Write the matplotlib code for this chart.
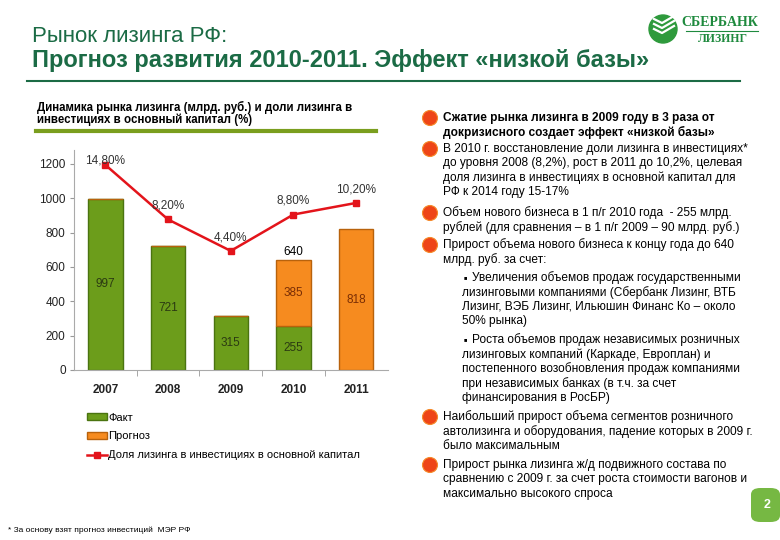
import matplotlib
matplotlib.use('Agg')
import matplotlib.pyplot as plt
from matplotlib.patches import Patch, Ellipse, FancyBboxPatch
from matplotlib.lines import Line2D

# Chart data
years = ['2007', '2008', '2009', '2010', '2011']
fact = [997, 721, 315, 255, 0]
forecast = [0, 0, 0, 385, 818]
share = [14.8, 8.2, 4.4, 8.8, 10.2]
share_labels = ['14,80%', '8,20%', '4,40%', '8,80%', '10,20%']
y_ticks = [0, 200, 400, 600, 800, 1000, 1200]

# Right-hand text block
bullets = [
    ['Сжатие рынка лизинга в 2009 году в 3 раза от',
     'докризисного создает эффект «низкой базы»'],
    ['В 2010 г. восстановление доли лизинга в инвестициях*',
     'до уровня 2008 (8,2%), рост в 2011 до 10,2%, целевая',
     'доля лизинга в инвестициях в основной капитал для',
     'РФ к 2014 году 15-17%'],
    ['Объем нового бизнеса в 1 п/г 2010 года  - 255 млрд.',
     'рублей (для сравнения – в 1 п/г 2009 – 90 млрд. руб.)'],
    ['Прирост объема нового бизнеса к концу года до 640',
     'млрд. руб. за счет:'],
    ['Наибольший прирост объема сегментов розничного',
     'автолизинга и оборудования, падение которых в 2009 г.',
     'было максимальным'],
    ['Прирост рынка лизинга ж/д подвижного состава по',
     'сравнению с 2009 г. за счет роста стоимости вагонов и',
     'максимально высокого спроса'],
]
bullet_bold = [True, False, False, False, False, False]
sub_bullets = [
    ['Увеличения объемов продаж государственными',
     'лизинговыми компаниями (Сбербанк Лизинг, ВТБ',
     'Лизинг, ВЭБ Лизинг, Ильюшин Финанс Ко – около',
     '50% рынка)'],
    ['Роста объемов продаж независимых розничных',
     'лизинговых компаний (Каркаде, Европлан) и',
     'постепенного возобновления продаж компаниями',
     'при независимых банках (в т.ч. за счет',
     'финансирования в РосБР)'],
]

W, H = 780, 540
DARK_GREEN = '#1b6b45'
GREEN = '#6c9d1b'
ORANGE = '#f68b1f'
RED = '#e3141b'
FONT = ['Liberation Sans', 'DejaVu Sans']
NARROW = ['Liberation Sans Narrow', 'Liberation Sans', 'DejaVu Sans']

plt.rcParams['font.family'] = FONT


def fx(x):
    return x / W


def fy(y):
    return 1 - y / H


fig = plt.figure(figsize=(7.8, 5.4), dpi=100)

# Header
fig.text(fx(32), fy(36), 'Рынок лизинга РФ:', fontsize=16, color=DARK_GREEN,
         va='center')
fig.text(fx(32), fy(60), 'Прогноз развития 2010-2011. Эффект «низкой базы»',
         fontsize=17, color=DARK_GREEN, fontweight='bold', va='center')
fig.add_artist(Line2D([fx(27), fx(740)], [fy(81), fy(81)], color=DARK_GREEN, lw=1.5))

# Logo
fig.add_artist(Ellipse((fx(663), fy(29)), 28 / W, 28 / H, color='#2e9a3c'))
for dy in (-6, -1, 4):
    fig.add_artist(Line2D([fx(654), fx(662), fx(674)],
                          [fy(29 + dy - 4), fy(29 + dy), fy(29 + dy - 7)],
                          color='white', lw=1.6))
fig.text(fx(720), fy(22), 'СБЕРБАНК', family=['Liberation Serif'], fontweight='bold',
         fontsize=10, color='#1f8a3e', ha='center', va='center')
fig.add_artist(Line2D([fx(686), fx(758)], [fy(31), fy(31)], color='#1f8a3e', lw=0.8))
fig.text(fx(723), fy(39), 'ЛИЗИНГ', family=['Liberation Serif'], fontweight='bold',
         fontsize=8.5, color='#1f8a3e', ha='center', va='center')

# Chart caption
fig.text(fx(37), fy(107), 'Динамика рынка лизинга (млрд. руб.) и доли лизинга в',
         family=NARROW, fontweight='bold', fontsize=8.3, va='center')
fig.text(fx(37), fy(120), 'инвестициях в основный капитал (%)',
         family=NARROW, fontweight='bold', fontsize=8.3, va='center')
fig.add_artist(Line2D([fx(36), fx(376)], [fy(131), fy(131)], color='#7a9e1e', lw=3))

# Chart
ax = fig.add_axes([fx(74), fy(370), 313.5 / W, 220 / H])
x = list(range(len(years)))
ax.bar(x, fact, width=0.55, color=GREEN, edgecolor='#4a7410', linewidth=1, zorder=2)
ax.bar(x, forecast, width=0.55, bottom=fact, color=ORANGE, edgecolor='#b8620c',
       linewidth=1, zorder=2)
for i in x:
    if fact[i]:
        ax.text(i, fact[i] / 2, str(fact[i]), ha='center', va='center',
                fontsize=8.5, color='#2b3a12')
    if forecast[i]:
        ax.text(i, fact[i] + forecast[i] / 2, str(forecast[i]), ha='center',
                va='center', fontsize=8.5, color='#7a2e05')
ax.text(3, fact[3] + forecast[3] + 12, str(fact[3] + forecast[3]), ha='center',
        va='bottom', fontsize=8.5, color='black')

ax.set_xlim(-0.5, len(years) - 0.5)
ax.set_ylim(0, 1280)
ax.set_yticks(y_ticks)
ax.set_yticklabels([str(v) for v in y_ticks], fontsize=8.5, color='#222222')
ax.set_xticks(x)
ax.set_xticklabels(years, fontsize=8.5, fontweight='bold', color='#222222')
ax.set_xticks([i + 0.5 for i in x[:-1]], minor=True)
ax.tick_params(axis='x', which='major', length=0, pad=10)
ax.tick_params(axis='x', which='minor', length=4, color='#999999', direction='out')
ax.tick_params(axis='y', length=3, color='#999999', pad=3)
for side in ('top', 'right'):
    ax.spines[side].set_visible(False)
for side in ('left', 'bottom'):
    ax.spines[side].set_color('#aaaaaa')

ax2 = ax.twinx()
ax2.set_ylim(-10, 16.6)
ax2.axis('off')
ax2.plot(x, share, color=RED, lw=1.8, marker='s', markersize=5, zorder=3)
label_offsets = [3, 10, 10, 10, 10]
for i in x:
    ax2.annotate(share_labels[i], (i, share[i]), xytext=(0, label_offsets[i]),
                 textcoords='offset points', ha='center', va='center',
                 fontsize=8.5, color='#333333', clip_on=False)

handles = [
    Patch(facecolor=GREEN, edgecolor='#4a7410'),
    Patch(facecolor=ORANGE, edgecolor='#b8620c'),
    Line2D([], [], color=RED, lw=1.8, marker='s', markersize=5),
]
fig.legend(handles, ['Факт', 'Прогноз', 'Доля лизинга в инвестициях в основной капитал'],
           loc='upper left', bbox_to_anchor=(fx(81), fy(407)), frameon=False,
           fontsize=8, handlelength=1.8, handleheight=0.6, handletextpad=0.15,
           labelspacing=0.8, borderpad=0)

fig.text(fx(8), fy(530), '* За основу взят прогноз инвестиций  МЭР РФ',
         family=NARROW, fontsize=6, va='center')

# Right-hand text
line_h = 14.4
text_size = 8.6
bullet_starts = [118, 149, 213, 245, 417, 465]
sub_starts = [278, 340]


def bullet(y):
    fig.add_artist(Ellipse((fx(430), fy(y)), 15 / W, 15 / H,
                           facecolor='#ee4518', edgecolor='#f58a2a', lw=0.8))


for lines, y0, bold in zip(bullets, bullet_starts, bullet_bold):
    bullet(y0)
    for k, line in enumerate(lines):
        fig.text(fx(443), fy(y0 + k * line_h), line, fontsize=text_size,
                 fontweight='bold' if bold else 'normal', va='center')

for lines, y0 in zip(sub_bullets, sub_starts):
    fig.text(fx(465), fy(y0), '■', fontsize=4, va='center', ha='center')
    for k, line in enumerate(lines):
        xpos = 472 if k == 0 else 462
        fig.text(fx(xpos), fy(y0 + k * line_h), line, fontsize=text_size, va='center')

# Page number
fig.add_artist(FancyBboxPatch((fx(751), fy(522)), 29 / W, 34 / H,
                              boxstyle='round,pad=0,rounding_size=0.012',
                              facecolor='#76b843', edgecolor='none'))
fig.text(fx(767), fy(505), '2', color='white', fontsize=9, fontweight='bold',
         ha='center', va='center')

fig.savefig('out.png', dpi=100)
